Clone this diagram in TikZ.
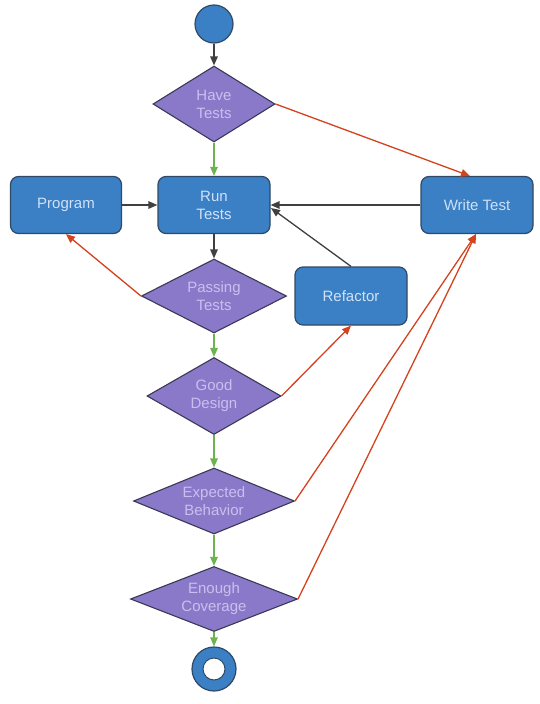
\documentclass[tikz,border=0pt]{standalone}
\usepackage{fontspec}
\setmainfont{Liberation Sans}
\usetikzlibrary{shapes.geometric,arrows.meta}
\definecolor{boxfill}{HTML}{3B7FC4}
\definecolor{boxline}{HTML}{2E4A66}
\definecolor{boxtext}{HTML}{CFE2F7}
\definecolor{diafill}{HTML}{8A79C9}
\definecolor{dialine}{HTML}{3A3856}
\definecolor{diatext}{HTML}{C9BFEE}
\definecolor{redarr}{HTML}{D4431F}
\definecolor{greenarr}{HTML}{6DB34F}
\definecolor{grayarr}{HTML}{404040}
\begin{document}
\begin{tikzpicture}[x=1pt,y=-1pt,
  box/.style={draw=boxline, line width=1.2pt, fill=boxfill, rounded corners=8pt,
    minimum width=112pt, minimum height=57pt, text=boxtext, font=\fontsize{15}{18}\selectfont, align=center, inner sep=0pt},
  dia/.style={draw=dialine, line width=1.1pt, fill=diafill, diamond, aspect=#1, inner sep=0pt,
    text=diatext, font=\fontsize{15}{18}\selectfont, align=center},
  tipa/.style={-{Triangle[length=9pt,width=7.5pt]}},
  garr/.style={tipa, draw=greenarr, fill=greenarr, line width=1.3pt},
  rarr/.style={tipa, draw=redarr, fill=redarr, line width=1.3pt},
  karr/.style={tipa, draw=grayarr, fill=grayarr, line width=1.3pt},
]
\useasboundingbox (0,0) rectangle (540,704);

\node[circle, draw=boxline, line width=1.2pt, fill=boxfill, minimum size=38pt, inner sep=0pt] (start) at (214,24) {};

\node[dia=1.6, minimum width=122pt, minimum height=76pt] (have) at (214,104) {Have\\Tests};
\node[box] (run) at (214,205) {Run\\Tests};
\node[box, minimum width=111pt] (prog) at (66,205) {Program};
\node[box] (write) at (477,205) {Write Test};
\node[dia=1.9, minimum width=145pt, minimum height=74pt] (pass) at (214,296) {Passing\\Tests};
\node[box, minimum height=58pt] (refac) at (351,296) {Refactor};
\node[dia=1.75, minimum width=134pt, minimum height=77pt] (good) at (214,396) {Good\\Design};
\node[dia=2.4, minimum width=161pt, minimum height=66pt] (exp) at (214,501) {Expected\\Behavior};
\node[dia=2.5, minimum width=167pt, minimum height=65pt] (enough) at (214,599) {Enough\\Coverage};

\node[circle, draw=boxline, line width=1.2pt, fill=boxfill, minimum size=44pt, inner sep=0pt] (endo) at (214,669) {};
\node[circle, draw=boxline, line width=1pt, fill=white, minimum size=22pt, inner sep=0pt] (endi) at (214,669) {};

\coordinate (wtop) at (470,176);
\coordinate (wbot) at (476,234);
\coordinate (rr) at (271,208);

\draw[karr] (start) -- (have);
\draw[garr] (have) -- (run);
\draw[rarr] (have.east) -- (wtop);
\draw[karr] (prog) -- (run);
\draw[karr] (write) -- (run);
\draw[karr] (refac.north) -- (rr);
\draw[karr] (run) -- (pass);
\draw[rarr] (pass.west) -- (prog.south);
\draw[garr] (pass) -- (good);
\draw[rarr] (good.east) -- (refac.south);
\draw[garr] (good) -- (exp);
\draw[rarr] (exp.east) -- (wbot);
\draw[garr] (exp) -- (enough);
\draw[rarr] (enough.east) -- (wbot);
\draw[garr] (enough) -- (endo);
\end{tikzpicture}
\end{document}
